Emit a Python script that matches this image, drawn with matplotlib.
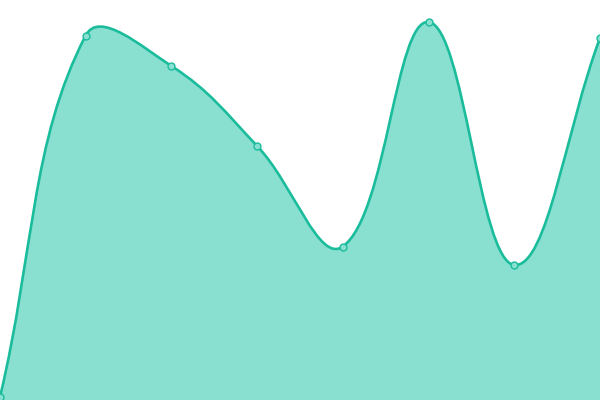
import numpy as np
import matplotlib
matplotlib.use('Agg')
import matplotlib.pyplot as plt
from matplotlib.path import Path
from matplotlib.patches import PathPatch

# data
labels = ['A', 'B', 'C', 'D', 'E', 'F', 'G', 'H']
values = [3, 364.5, 334, 254, 153.5, 378, 135, 362]

line_col = '#1abc9c'
fill_col = '#8ae0d0'
tension = 0.4


def spline_ctrl(pts, t):
    # chart.js style spline control points, computed in pixel space
    n = len(pts)
    cps = []
    for i in range(n):
        cur = pts[i]
        prev = pts[i - 1] if i > 0 else cur
        nxt = pts[i + 1] if i < n - 1 else cur
        d01 = np.hypot(*(cur - prev))
        d12 = np.hypot(*(nxt - cur))
        tot = d01 + d12
        s01 = d01 / tot if tot else 0
        s12 = d12 / tot if tot else 0
        cps.append((cur - t * s01 * (nxt - prev), cur + t * s12 * (nxt - prev)))
    return cps


def main():
    fig = plt.figure(figsize=(6, 4), dpi=100)
    ax = fig.add_axes([0, 0, 1, 1])
    x = np.arange(len(values))
    ax.set_xlim(0, len(values) - 1)
    ax.set_ylim(0, 400)
    ax.axis('off')

    disp = ax.transData.transform(np.column_stack([x, values]))
    cps = spline_ctrl(disp, tension)
    inv = ax.transData.inverted()

    verts = [disp[0]]
    codes = [Path.MOVETO]
    for i in range(len(disp) - 1):
        verts += [cps[i][1], cps[i + 1][0], disp[i + 1]]
        codes += [Path.CURVE4] * 3
    verts = inv.transform(np.array(verts))

    line_path = Path(verts, codes)
    fill_verts = np.vstack([verts, [[x[-1], 0], [x[0], 0], verts[0]]])
    fill_codes = codes + [Path.LINETO, Path.LINETO, Path.CLOSEPOLY]
    ax.add_patch(PathPatch(Path(fill_verts, fill_codes), fc=fill_col, ec='none', zorder=1))
    ax.add_patch(PathPatch(line_path, fc='none', ec=line_col, lw=1.9, zorder=2))

    ax.plot(x, values, 'o', ms=5, mfc=fill_col, mec=line_col, mew=1, zorder=3,
            clip_on=True)

    plt.savefig('out.png', dpi=100)


if __name__ == '__main__':
    main()
